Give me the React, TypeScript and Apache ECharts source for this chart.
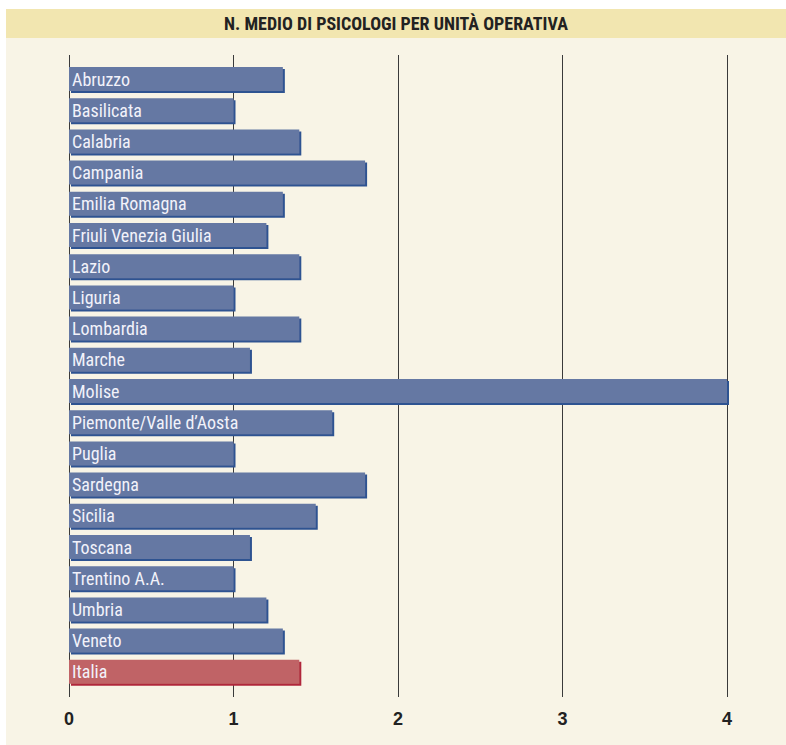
import React, { useEffect, useRef } from "react";
import * as echarts from "echarts";

const categories = [
  "Abruzzo", "Basilicata", "Calabria", "Campania", "Emilia Romagna",
  "Friuli Venezia Giulia", "Lazio", "Liguria", "Lombardia", "Marche",
  "Molise", "Piemonte/Valle d\u2019Aosta", "Puglia", "Sardegna", "Sicilia",
  "Toscana", "Trentino A.A.", "Umbria", "Veneto", "Italia",
];
const values = [1.3, 1.0, 1.4, 1.8, 1.3, 1.2, 1.4, 1.0, 1.4, 1.1, 4.0, 1.6, 1.0, 1.8, 1.5, 1.1, 1.0, 1.2, 1.3, 1.4];
const titleText = "N. MEDIO DI PSICOLOGI PER UNIT\u00C0 OPERATIVA";
const xTicks = [0, 1, 2, 3, 4];

const FONT = "'Liberation Sans Narrow', 'Roboto Condensed', 'Liberation Sans', sans-serif";

export default function App() {
  const ref = useRef<HTMLDivElement>(null);
  useEffect(() => {
    if (!ref.current) return;
    const chart = echarts.init(ref.current, undefined, { renderer: "svg" });
    const data = values.map((v, i) => {
      const isItaly = categories[i] === "Italia";
      return {
        value: v,
        itemStyle: {
          color: isItaly ? "#c06466" : "#6578a3",
          shadowColor: isItaly ? "#b0283a" : "#2d5391",
          shadowOffsetX: 2,
          shadowOffsetY: 2,
          shadowBlur: 0,
        },
      };
    });
    chart.setOption({
      animation: false,
      backgroundColor: "#f8f4e6",
      graphic: [
        { type: "rect", z: -1, shape: { x: 0, y: 0, width: 780, height: 29 }, style: { fill: "#f2e6b0" } },
        {
          type: "text", left: "center", top: 5,
          style: { text: titleText, font: `bold 18px ${FONT}`, fill: "#222" },
        },
      ],
      grid: [
        { left: 63, right: 59, top: 54.4, height: 624, containLabel: false },
        { left: 63, right: 59, top: 46, height: 642, containLabel: false },
      ],
      xAxis: [
        {
          gridIndex: 0, type: "value", min: 0, max: 4, interval: 1,
          axisLine: { show: false }, axisTick: { show: false }, axisLabel: { show: false }, splitLine: { show: false },
        },
        {
          gridIndex: 1, type: "value", min: 0, max: 4, interval: 1,
          axisLine: { show: false }, axisTick: { show: false },
          axisLabel: {
            show: true, margin: 13, fontFamily: "'Liberation Sans', Arial, sans-serif", fontWeight: "bold",
            fontSize: 18, color: "#222",
            formatter: (v: number) => (xTicks.includes(v) ? String(v) : ""),
          },
          splitLine: { show: true, lineStyle: { color: "#3a3a3a", width: 1 } },
        },
      ],
      yAxis: [
        {
          gridIndex: 0, type: "category", data: categories, inverse: true,
          axisLine: { show: false }, axisTick: { show: false }, axisLabel: { show: false }, splitLine: { show: false },
        },
        {
          gridIndex: 1, type: "category", data: [""],
          axisLine: { show: false }, axisTick: { show: false }, axisLabel: { show: false }, splitLine: { show: false },
        },
      ],
      series: [
        {
          type: "bar", xAxisIndex: 0, yAxisIndex: 0, barWidth: 24, z: 3,
          data,
          label: {
            show: true, position: "insideLeft", distance: 3,
            formatter: (p: any) => categories[p.dataIndex],
            fontFamily: FONT, fontWeight: "normal", fontSize: 18, color: "#f2f2fa",
          },
        },
      ],
    });
    return () => chart.dispose();
  }, []);
  return <div ref={ref} style={{ position: "fixed", left: 6, top: 9, width: 780, height: 736 }} />;
}
